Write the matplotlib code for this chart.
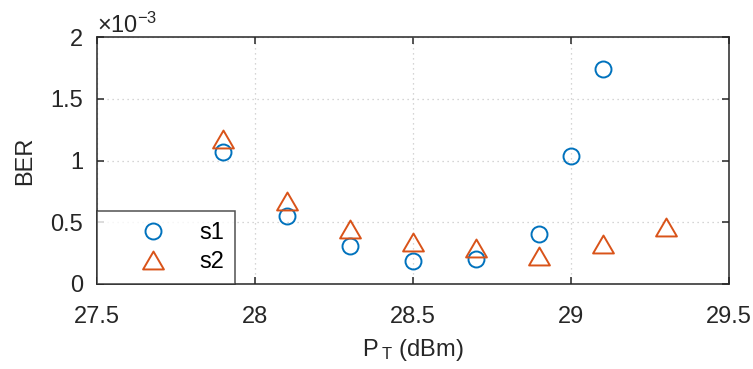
import matplotlib
matplotlib.use("Agg")
import matplotlib.pyplot as plt
from matplotlib.path import Path

plt.rcParams['font.family'] = ['Liberation Sans', 'DejaVu Sans']
plt.rcParams['mathtext.fontset'] = 'custom'
plt.rcParams['mathtext.rm'] = 'Liberation Sans'
plt.rcParams['mathtext.it'] = 'Liberation Sans'
plt.rcParams['mathtext.default'] = 'regular'

# Transmit power (dBm) and measured BER (x1e-3)
pt_s1 = [27.9, 28.1, 28.3, 28.5, 28.7, 28.9, 29.0, 29.1]
ber_s1 = [1.07, 0.55, 0.31, 0.19, 0.20, 0.405, 1.04, 1.74]
pt_s2 = [27.9, 28.1, 28.3, 28.5, 28.7, 28.9, 29.1, 29.3]
ber_s2 = [1.175, 0.675, 0.445, 0.34, 0.295, 0.23, 0.325, 0.46]

x_ticks = [27.5, 28, 28.5, 29, 29.5]
x_tick_labels = ['27.5', '28', '28.5', '29', '29.5']
y_ticks = [0, 0.5, 1, 1.5, 2]
y_tick_labels = ['0', '0.5', '1', '1.5', '2']

FS = 17
INK = '#262626'

# slightly wide upward triangle
tri = Path([(0, 0.86), (-1, -0.86), (1, -0.86), (0, 0.86)],
           [Path.MOVETO, Path.LINETO, Path.LINETO, Path.CLOSEPOLY])

fig = plt.figure(figsize=(7.53, 3.69), dpi=100)
ax = fig.add_axes([97 / 753, 1 - 284 / 369, (729 - 97) / 753, (284 - 37) / 369])

ax.plot(pt_s1, ber_s1, linestyle='none', marker='o', markersize=11.5,
        markerfacecolor='none', markeredgecolor='#0072BD', markeredgewidth=1.4,
        label='s1')
ax.plot(pt_s2, ber_s2, linestyle='none', marker=tri, markersize=15,
        markerfacecolor='none', markeredgecolor='#D95319', markeredgewidth=1.4,
        label='s2')

ax.set_xlim(27.5, 29.5)
ax.set_ylim(0, 2)
ax.set_xticks(x_ticks)
ax.set_xticklabels(x_tick_labels)
ax.set_yticks(y_ticks)
ax.set_yticklabels(y_tick_labels)

ax.grid(True, linestyle=(0, (1, 3)), color='#c8c8c8', linewidth=0.9)
ax.set_axisbelow(True)

for s in ax.spines.values():
    s.set_color(INK)
    s.set_linewidth(1.1)

ax.tick_params(direction='in', length=5, width=1.1, colors=INK,
               labelsize=FS, top=True, right=True)
ax.tick_params(axis='y', pad=10)
ax.tick_params(axis='x', pad=15.5)
for lbl in ax.get_xticklabels() + ax.get_yticklabels():
    lbl.set_color(INK)

ax.set_xlabel(r'P$\,_{T}$ (dBm)', fontsize=FS, color=INK, labelpad=7)
ax.set_ylabel('BER', fontsize=FS, color=INK, labelpad=10)

ax.text(0.0, 0.995, r'$\times$10$^{-3}$', transform=ax.transAxes,
        fontsize=FS, color=INK, ha='left', va='bottom')

leg = ax.legend(loc='lower left', fontsize=FS, frameon=True, fancybox=False,
                borderaxespad=0, handlelength=3.85, handletextpad=0.05,
                borderpad=0.45, labelspacing=0.32)
leg.get_frame().set_edgecolor(INK)
leg.get_frame().set_linewidth(1.1)

fig.savefig('out.png', dpi=100)
